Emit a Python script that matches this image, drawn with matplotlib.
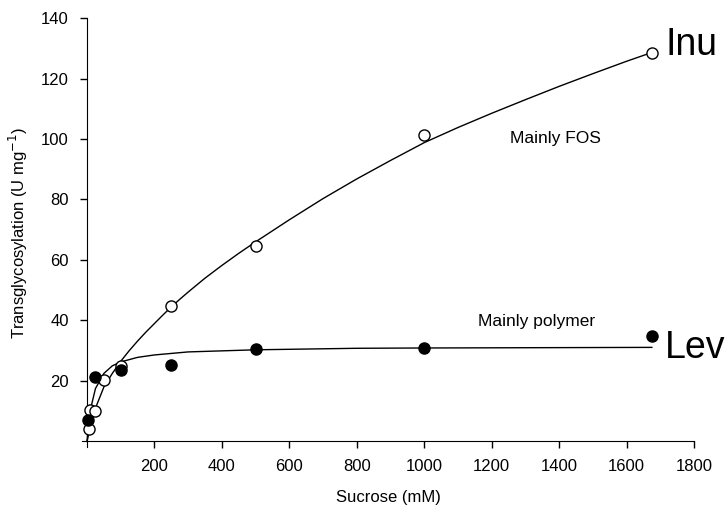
import numpy as np
import matplotlib
matplotlib.use('Agg')
import matplotlib.pyplot as plt

plt.rcParams['font.family'] = ['Liberation Sans', 'DejaVu Sans']

# measured points
inu_x = [5, 10, 25, 50, 100, 250, 500, 1000, 1675]
inu_y = [4, 10.3, 10, 20.2, 25, 44.7, 64.6, 101.4, 128.5]
lev_x = [3, 25, 100, 250, 500, 1000, 1675]
lev_y = [7, 21.3, 23.5, 25.2, 30.5, 31, 35]

# fitted curves
inu_fit_x = [0, 10, 25, 50, 75, 100, 125, 150, 175, 200, 225, 250, 275, 300, 350, 400, 450, 500,
             600, 700, 800, 900, 1000, 1100, 1200, 1300, 1400, 1500, 1600, 1675]
inu_fit_y = [0, 5, 11, 18, 22.5, 26.5, 30, 33.2, 36.2, 39, 41.8, 44.5, 47, 49.4, 54, 58.2, 62.2, 66,
             73.3, 80.3, 86.8, 92.9, 98.8, 103.8, 108.5, 113, 117.4, 121.6, 125.7, 128.6]
lev_fit_x = [0, 5, 10, 25, 50, 75, 100, 150, 200, 300, 500, 800, 1000, 1675]
lev_fit_y = [0, 6.5, 10.5, 17.5, 22.5, 25, 26.3, 27.8, 28.6, 29.6, 30.3, 30.8, 30.9, 31.1]

fig = plt.figure(figsize=(7.28, 5.12), dpi=100)
ax = fig.add_axes([0.1126, 0.126, 0.8407, 0.8388])

ax.plot(inu_fit_x, inu_fit_y, 'k-', lw=1)
ax.plot(lev_fit_x, lev_fit_y, 'k-', lw=1)
ax.plot(inu_x, inu_y, 'o', ms=8, mfc='white', mec='black', mew=1, zorder=3)
ax.plot(lev_x, lev_y, 'o', ms=8, mfc='black', mec='black', mew=1, zorder=3)

ax.set_xlim(-15, 1800)
ax.set_ylim(-2, 140)
ax.spines['left'].set_position(('data', 0))
ax.spines['bottom'].set_position(('data', 0))
ax.spines['top'].set_visible(False)
ax.spines['right'].set_visible(False)
ax.set_xticks(range(200, 1801, 200))
ax.set_yticks(range(20, 141, 20))
ax.tick_params(direction='out', length=5, width=1, labelsize=12, pad=8)

ax.set_xlabel('Sucrose (mM)', fontsize=12, labelpad=11)
ax.set_ylabel('Transglycosylation (U mg$^{-1}$)', fontsize=12, labelpad=8)

ax.text(1254, 100.3, 'Mainly FOS', fontsize=12.5, va='center', ha='left')
ax.text(1160, 39.5, 'Mainly polymer', fontsize=12.5, va='center', ha='left')
ax.text(1714, 127.8, 'Inu', fontsize=27, va='baseline', ha='left', clip_on=False)
ax.text(1714, 27.6, 'Lev', fontsize=27, va='baseline', ha='left', clip_on=False)

fig.savefig('out.png', dpi=100)
